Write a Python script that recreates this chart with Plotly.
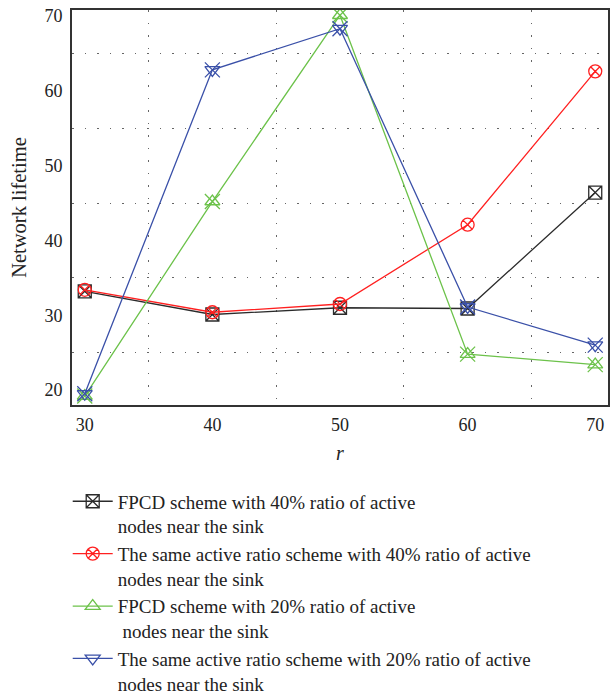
import plotly.graph_objects as go

r_values = [30, 40, 50, 60, 70]
fpcd_40 = [33.2, 30.1, 31.0, 30.9, 46.4]
same_40 = [33.4, 30.4, 31.5, 42.1, 62.6]
fpcd_20 = [19.2, 45.2, 70.1, 24.8, 23.4]
same_20 = [19.5, 62.8, 68.3, 31.1, 26.0]

names = [
    "FPCD scheme with 40% ratio of active<br>nodes near the sink",
    "The same active ratio scheme with 40% ratio of active<br>nodes near the sink",
    "FPCD scheme with 20% ratio of active<br> nodes near the sink",
    "The same active ratio scheme with 20% ratio of active<br>nodes near the sink",
]
colors = ["#2b2b2b", "#ff2020", "#6cc24a", "#3a50a8"]
series = [fpcd_40, same_40, fpcd_20, same_20]
symbols = ["square-x-open", "circle-x-open", "triangle-up-open", "triangle-down-open"]
overlay_x = [False, False, True, True]

FONT = "Liberation Serif"

fig = go.Figure()
for name, col, ys, sym, ox in zip(names, colors, series, symbols, overlay_x):
    fig.add_trace(go.Scatter(
        x=r_values, y=ys, name=name, mode="lines+markers",
        line=dict(color=col, width=1.3),
        marker=dict(symbol=sym, size=13, color=col, line=dict(color=col, width=1.3)),
    ))
    if ox:
        fig.add_trace(go.Scatter(
            x=r_values, y=ys, mode="markers", showlegend=False, hoverinfo="skip",
            marker=dict(symbol="x-thin-open", size=15, color=col, line=dict(color=col, width=1.3)),
        ))

axis_common = dict(
    showline=True, mirror=True, linecolor="#333333", linewidth=1.6,
    showgrid=False, zeroline=False, ticks="",
    tickfont=dict(family=FONT, size=18, color="#222222"),
)

fig.update_xaxes(
    **axis_common, range=[29, 71], tickvals=[30, 40, 50, 60, 70],
    ticklabelstandoff=3,
    minor=dict(tick0=35, dtick=10, showgrid=True, gridcolor="#666666",
               griddash="1.5px,11px", gridwidth=1.4, ticks=""),
    title=dict(text="<i>r</i>", font=dict(family=FONT, size=20, color="#222222"), standoff=12),
)
fig.update_yaxes(
    **axis_common, range=[18, 70.8], tickvals=[20, 30, 40, 50, 60, 70],
    ticklabelstandoff=4,
    minor=dict(tick0=25, dtick=10, showgrid=True, gridcolor="#666666",
               griddash="1.5px,11px", gridwidth=1.4, ticks=""),
    title=dict(text="Network lifetime", font=dict(family=FONT, size=20.5, color="#222222"), standoff=12),
)

fig.update_layout(
    width=614, height=697,
    margin=dict(l=72, r=6, t=10, b=292, autoexpand=False),
    plot_bgcolor="white", paper_bgcolor="white",
    font=dict(family=FONT, color="#222222"),
    legend=dict(
        x=-0.008, y=-0.196, xanchor="left", yanchor="top", valign="top",
        font=dict(family=FONT, size=19, color="#222222"),
        bgcolor="rgba(0,0,0,0)", itemwidth=40,
    ),
)

fig.write_html("out.html", config={"displayModeBar": False},
               post_script="document.body.style.margin='0';")
